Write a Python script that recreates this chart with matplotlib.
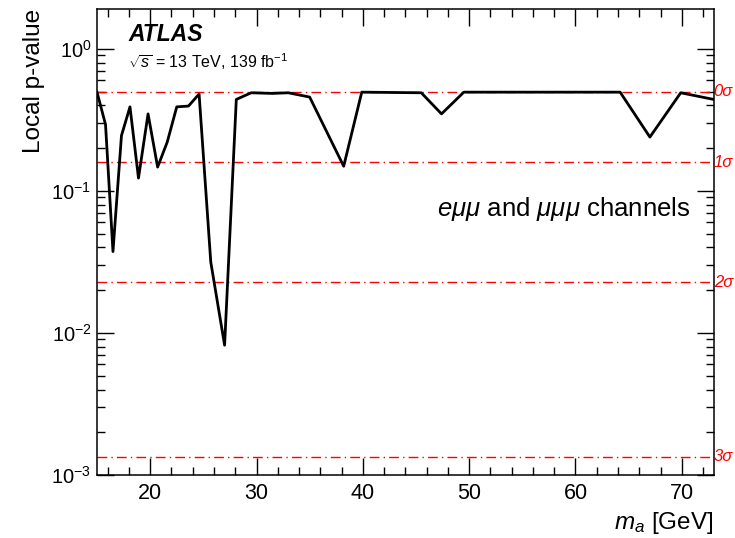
import numpy as np
import matplotlib
matplotlib.use('Agg')
import matplotlib.pyplot as plt
from matplotlib.ticker import MultipleLocator, LogLocator, NullFormatter

plt.rcParams['font.family'] = ['Liberation Sans', 'DejaVu Sans']
plt.rcParams['mathtext.fontset'] = 'custom'
plt.rcParams['mathtext.rm'] = 'Liberation Sans'
plt.rcParams['mathtext.it'] = 'Liberation Sans:italic'
plt.rcParams['mathtext.bf'] = 'Liberation Sans:bold'

# scan over the pseudoscalar mass hypothesis
mass = [15.0, 15.8, 16.5, 17.3, 18.1, 18.9, 19.8, 20.7, 21.6, 22.5, 23.6, 24.6,
        25.7, 27.0, 28.1, 29.5, 31.5, 33.0, 35.0, 38.2, 39.9, 45.5, 47.4,
        49.5, 64.2, 67.0, 69.9, 73.0]
p_local = [0.495, 0.293, 0.0374, 0.245, 0.39, 0.123, 0.348, 0.147, 0.22, 0.39,
           0.395, 0.48, 0.0315, 0.0082, 0.44, 0.49, 0.485, 0.49, 0.457, 0.149,
           0.495, 0.49, 0.348, 0.495, 0.495, 0.239, 0.49, 0.44]

# one-sided significance levels and their p-values
sigma_labels = ['0', '1', '2', '3']
sigma_p = [0.5, 0.1587, 0.02275, 0.00135]

fig = plt.figure(figsize=(7.35, 5.38), dpi=100)
ax = fig.add_axes([0.132, 0.117, 0.839, 0.866])

for lab, p in zip(sigma_labels, sigma_p):
    ax.axhline(p, color='red', lw=1.0, ls=(0, (7, 3, 1, 3)))
    ax.text(1.0, p, lab + 'σ', transform=ax.get_yaxis_transform(),
            color='red', fontsize=12, fontstyle='italic',
            va='center', ha='left')

ax.plot(mass, p_local, color='black', lw=2.0)

ax.set_yscale('log')
ax.set_xlim(15, 73)
ax.set_ylim(1e-3, 1.9)

ax.xaxis.set_major_locator(MultipleLocator(10))
ax.xaxis.set_minor_locator(MultipleLocator(2))
ax.yaxis.set_major_locator(LogLocator(base=10, numticks=10))
ax.yaxis.set_minor_locator(LogLocator(base=10, subs=np.arange(2, 10), numticks=20))
ax.yaxis.set_minor_formatter(NullFormatter())

ax.tick_params(which='both', direction='in', top=True, right=True, width=1.0)
ax.tick_params(which='major', length=12)
ax.tick_params(axis='y', which='major', labelsize=14.5, pad=4)
ax.tick_params(axis='x', which='major', labelsize=15.5, pad=6)
ax.tick_params(which='minor', length=6)
for s in ax.spines.values():
    s.set_linewidth(1.1)

ax.set_ylabel('Local p-value', fontsize=17.5, loc='top')
ax.yaxis.set_label_coords(-0.085, 1.0)
ax.set_xlabel(r'$m_a$ [GeV]', fontsize=17.5, loc='right', labelpad=4)

ax.text(0.051, 0.932, 'ATLAS', transform=ax.transAxes, fontsize=16.5,
        fontweight='bold', fontstyle='italic')
ax.text(0.051, 0.874, r'$\sqrt{s}$ = 13 TeV, 139 fb$^{-1}$',
        transform=ax.transAxes, fontsize=11.5)
ax.text(0.962, 0.555, r'$e\mu\mu$ and $\mu\mu\mu$ channels',
        transform=ax.transAxes, fontsize=18.5, ha='right')

fig.savefig('out.png', dpi=100)
